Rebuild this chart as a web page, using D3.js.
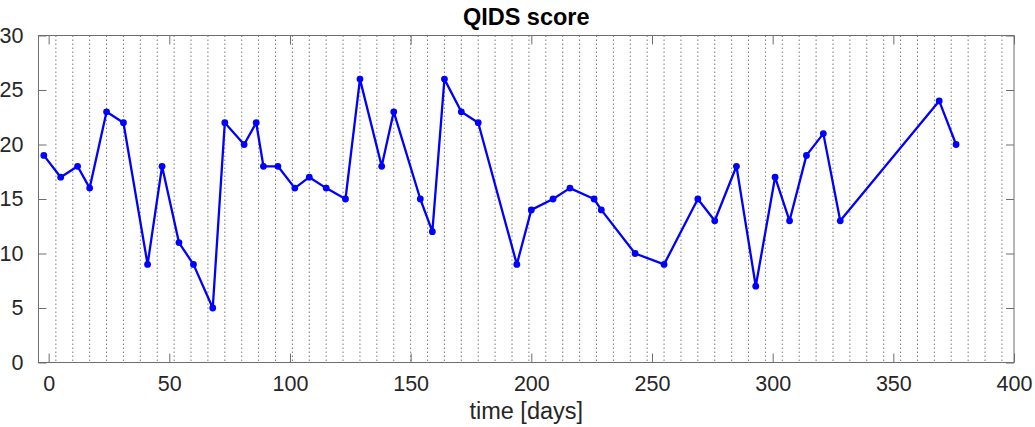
<!DOCTYPE html>
<html>
<head>
<meta charset="utf-8">
<script src="https://cdn.jsdelivr.net/npm/d3@7"></script>
<style>
  body { margin: 0; background: #fff; }
  svg { display: block; font-family: 'Liberation Sans', Arial, sans-serif; }
</style>
</head>
<body>
<svg id="chart"></svg>
<script>
// days since start and QIDS score
const days = [-2, 5, 12, 17, 24, 31, 41, 47, 54, 60, 68, 73, 81, 86, 89, 95, 102, 108, 115, 123,
  129, 138, 143, 154, 159, 164, 171, 178, 194, 200, 209, 216, 226, 229, 243, 255, 269, 276, 285, 293,
  301, 307, 314, 321, 328, 369, 376];
const scores = [19, 17, 18, 16, 23, 22, 9, 18, 11, 9, 5, 22, 20, 22, 18, 18, 16, 17, 16, 15,
  26, 18, 23, 15, 12, 26, 23, 22, 9, 14, 15, 16, 15, 14, 10, 9, 15, 13, 18, 7,
  17, 13, 19, 21, 13, 24, 20];
const xTicks = [0, 50, 100, 150, 200, 250, 300, 350, 400];
const yTicks = [0, 5, 10, 15, 20, 25, 30];
// weekly marks
const weekLines = d3.range(3, 400, 7);

const W = 1035, H = 427;
const margin = {top: 35.5, bottom: 64.5, left: 38.5, right: 21};
const width = W - margin.left - margin.right;
const height = H - margin.top - margin.bottom;

const root = d3.select('#chart')
.attr('width', W)
.attr('height', H);

const svg = root.append('g')
.attr('transform', `translate(${margin.left}, ${margin.top})`);

const x = d3.scaleLinear().domain([-4.2, 400]).range([0, width]);
const y = d3.scaleLinear().domain([0, 30]).range([height, 0]);

const data = days.map((d, i) => ({day: d, score: scores[i]}));

// dotted week lines
svg.selectAll('.week')
.data(weekLines)
.enter()
.append('line')
.attr('x1', d => x(d)).attr('x2', d => x(d))
.attr('y1', 0).attr('y2', height)
.attr('stroke', '#7a7a7a')
.attr('stroke-width', 1)
.attr('stroke-dasharray', '1.5,2.5');

const axisColor = '#6e6e6e';
const textColor = '#262626';

function styleAxis(g, hideText) {
  g.select('.domain').remove();
  g.selectAll('.tick line').attr('stroke', axisColor);
  g.selectAll('.tick text')
  .attr('fill', textColor)
  .style('font-size', '21.5px')
  .style('font-family', "'Liberation Sans', Arial, sans-serif");
  if (hideText) g.selectAll('.tick text').remove();
}

svg.append('g')
.attr('transform', `translate(0, ${height})`)
.call(d3.axisBottom(x).tickValues(xTicks).tickSize(-9).tickPadding(13.5))
.call(g => styleAxis(g, false));

svg.append('g')
.call(d3.axisTop(x).tickValues(xTicks).tickSize(-9))
.call(g => styleAxis(g, true));

svg.append('g')
.call(d3.axisLeft(y).tickValues(yTicks).tickSize(-8).tickPadding(15))
.call(g => styleAxis(g, false));

svg.append('g')
.attr('transform', `translate(${width}, 0)`)
.call(d3.axisRight(y).tickValues(yTicks).tickSize(-8))
.call(g => styleAxis(g, true));

// box
svg.append('rect')
.attr('x', 0).attr('y', 0)
.attr('width', width).attr('height', height)
.attr('fill', 'none')
.attr('stroke', axisColor)
.attr('stroke-width', 1);

const lineFn = d3.line()
.x(d => x(d.day))
.y(d => y(d.score));

svg.append('path')
.datum(data)
.attr('fill', 'none')
.attr('stroke', '#0000ff')
.attr('stroke-width', 2.3)
.attr('stroke-linejoin', 'round')
.attr('d', lineFn);

svg.selectAll('circle')
.data(data)
.enter()
.append('circle')
.attr('cx', d => x(d.day))
.attr('cy', d => y(d.score))
.attr('r', 3.4)
.attr('fill', '#0000ff');

svg.append('text')
.attr('x', width / 2)
.attr('y', -10.5)
.attr('text-anchor', 'middle')
.style('font-size', '23.5px')
.style('font-weight', 'bold')
.style('fill', '#000')
.text('QIDS score');

svg.append('text')
.attr('x', width / 2)
.attr('y', height + 56)
.attr('text-anchor', 'middle')
.style('font-size', '23.5px')
.style('fill', textColor)
.text('time [days]');
</script>
</body>
</html>
